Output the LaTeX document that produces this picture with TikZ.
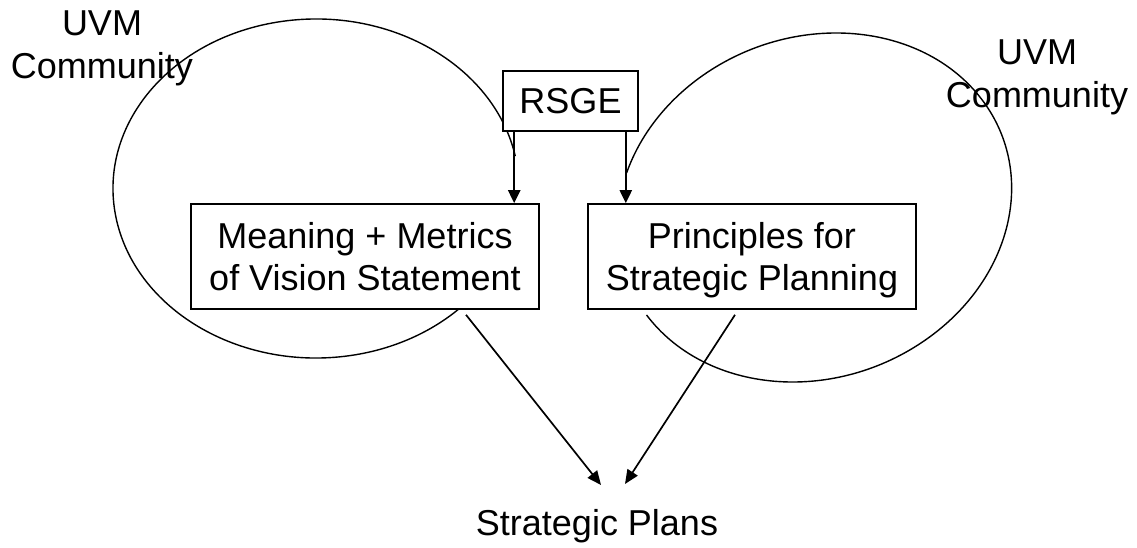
\documentclass[tikz,border=0pt]{standalone}
\usepackage{fontspec}
\setmainfont{Liberation Sans}
\usetikzlibrary{arrows.meta,calc}
\begin{document}
\begin{tikzpicture}[x=1pt,y=1pt,
  every node/.style={font=\fontsize{36}{42.5}\selectfont, inner sep=0pt},
  label text/.style={align=center, text depth=0pt},
  box/.style={draw, line width=1.6pt, fill=white, align=center, text depth=0pt},
  ring/.style={line width=1.4pt},
  flow/.style={line width=2.2pt, -{Triangle[length=13pt,width=12pt]}},
  feed/.style={line width=1.7pt, -{Triangle[length=14pt,width=12pt]}},
]
% canvas
\fill[white] (0,0) rectangle (1137,-548);
\useasboundingbox (0,0) rectangle (1137,-548);

% community circles (open arcs)
\coordinate (lc) at (316,-188.5);
\draw[ring] ($(lc)+(11:203pt and 169.5pt)$)
  arc[start angle=11, end angle=317, x radius=203pt, y radius=169.5pt];
\begin{scope}[shift={(814.4,-207.5)}, xslant=0.125]
  \draw[ring] (218:196pt and 174.5pt)
    arc[start angle=218, end angle=528.6, x radius=196pt, y radius=174.5pt];
\end{scope}

% community labels
\node[label text] (uvmL) at (102,-44.4) {UVM\\Community};
\node[label text] (uvmR) at (1037,-73.4) {UVM\\Community};

% boxes
\node[box, minimum width=135pt, minimum height=60pt] (rsge) at (570.5,-101) {RSGE};
\node[box, minimum width=348pt, minimum height=105pt] (meaning) at (365,-256.5)
  {Meaning + Metrics\\of Vision Statement};
\node[box, minimum width=328pt, minimum height=105pt] (principles) at (752,-256.5)
  {Principles for\\Strategic Planning};
\node[anchor=base] (plans) at (597,-535) {Strategic Plans};

% RSGE feeds both boxes
\coordinate (rl) at ($(rsge.south west)+(12,0)$);
\coordinate (rr) at ($(rsge.south east)+(-13,0)$);
\draw[flow] (rl) -- (rl |- meaning.north);
\draw[flow] (rr) -- (rr |- principles.north);

% both boxes lead to the plans
\coordinate (mo) at ($(meaning.south)+(101,-5)$);
\coordinate (po) at ($(principles.south)+(-17,-5)$);
\coordinate (pl) at ($(plans.base)+(4,50)$);
\coordinate (pr) at ($(plans.base)+(28,51)$);
\draw[feed] (mo) -- (pl);
\draw[feed] (po) -- (pr);
\end{tikzpicture}
\end{document}
